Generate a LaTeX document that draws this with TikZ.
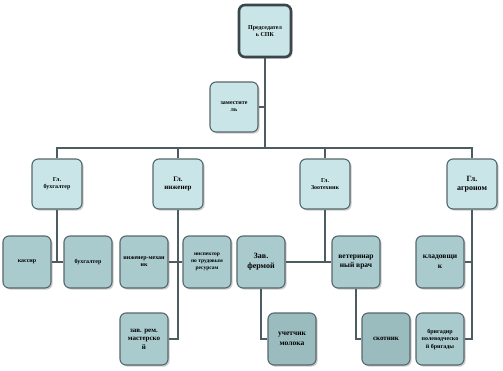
\documentclass[tikz,border=0pt]{standalone}
\usepackage{fontspec}
\setmainfont{Liberation Serif}
\usetikzlibrary{shadows}
\definecolor{orgline}{HTML}{4C5C60}
\definecolor{orgedge}{HTML}{56676B}
\definecolor{orgtop}{HTML}{3A4649}
\definecolor{orghead}{HTML}{C9E5E8}
\definecolor{orgsub}{HTML}{AACBCE}
\definecolor{orgdeep}{HTML}{9BBCBE}

\begin{document}
\begin{tikzpicture}[x=1pt,y=-1pt,
  font=\fontsize{6}{7}\selectfont\bfseries,
  unit/.style={draw=orgedge,line width=1.1pt,rounded corners=6pt,align=center,
               minimum width=48pt,minimum height=52pt,inner sep=1pt,
               drop shadow={shadow xshift=1.6pt,shadow yshift=-1.6pt,fill=black!40,opacity=.5}},
  head/.style={unit,fill=orghead,minimum height=50pt,minimum width=50pt},
  sub/.style={unit,fill=orgsub},
  deep/.style={unit,fill=orgdeep},
  link/.style={orgline,line width=2.6pt}
]
\useasboundingbox (0,0) rectangle (503,370);

% chairman and deputy
\node[head,draw=orgtop,line width=2.6pt,minimum width=52pt,minimum height=52pt] (pred) at (265,31)
  {Председател\\ь СПК};
\node[head,minimum width=48pt] (zam) at (234,107) {заместите\\ль};
\coordinate (bus) at (265,148);

% chief specialists
\node[head] (glbuh) at (57,184) {Гл.\\бухгалтер};
\node[head,font=\fontsize{7}{8}\selectfont\bfseries] (glinzh) at (178,184) {Гл.\\инженер};
\node[head] (glzoo) at (325,184) {Гл.\\Зоотехник};
\node[head,font=\fontsize{8}{9}\selectfont\bfseries] (glagr) at (472,184) {Гл.\\агроном};

% staff
\node[sub] (kas) at (27,262) {кассир};
\node[sub] (buh) at (88,262) {бухгалтер};
\node[sub] (mech) at (144,262) {инженер-механ\\ик};
\node[sub,font=\fontsize{5.5}{7}\selectfont\bfseries] (ohr) at (207,262) {инспектор\\по трудовым\\ресурсам};
\node[sub,font=\fontsize{7}{8.5}\selectfont\bfseries] (rem) at (144,339) {зав. рем.\\мастерско\\й};
\node[sub,font=\fontsize{8}{10}\selectfont\bfseries] (zf) at (261,262) {Зав.\\фермой};
\node[sub,font=\fontsize{7.5}{9}\selectfont\bfseries] (vet) at (356,262) {ветеринар\\ный врач};
\node[deep,font=\fontsize{7.5}{10}\selectfont\bfseries] (uch) at (292,339) {учетчик\\молока};
\node[deep,font=\fontsize{7}{8}\selectfont\bfseries] (skot) at (386,339) {скотник};
\node[sub,font=\fontsize{7.5}{10}\selectfont\bfseries] (klad) at (440,262) {кладовщи\\к};
\node[sub,font=\fontsize{6}{7.5}\selectfont\bfseries] (brig) at (440,339) {бригадир\\полеводческо\\й бригады};

% connectors
\draw[link] (pred) -- (bus);
\draw[link] (zam.east) -- (zam.east -| pred.south);
\draw[link] (glbuh.north) -- (glbuh.north |- bus) -- (glagr.north |- bus) -- (glagr.north);
\draw[link] (glinzh.north) -- (glinzh.north |- bus);
\draw[link] (glzoo.north) -- (glzoo.north |- bus);

\draw[link] (glbuh.south) -- (glbuh.south |- kas.east);
\draw[link] (kas.east) -- (buh.west);

\draw[link] (glinzh.south) -- (glinzh.south |- rem.east) -- (rem.east);
\draw[link] (mech.east) -- (ohr.west);

\draw[link] (glzoo.south) -- (glzoo.south |- zf.east);
\draw[link] (zf.east) -- (vet.west);
\draw[link] (zf.south) |- (uch.west);
\draw[link] (vet.south) |- (skot.west);

\draw[link] (glagr.south) -- (glagr.south |- brig.east) -- (brig.east);
\draw[link] (klad.east) -- (klad.east -| glagr.south);
\end{tikzpicture}
\end{document}
